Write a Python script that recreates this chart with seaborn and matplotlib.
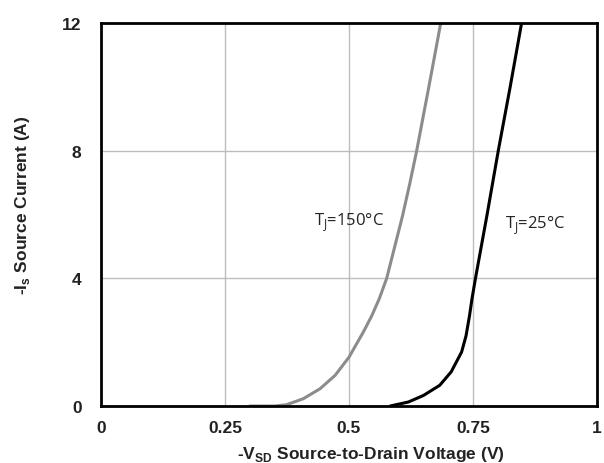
import numpy as np
import pandas as pd
import matplotlib
matplotlib.use("Agg")
import matplotlib.pyplot as plt
import seaborn as sns

# Data
v_150 = [0.30, 0.35, 0.374, 0.408, 0.4415, 0.472, 0.50, 0.529, 0.546, 0.561, 0.576, 0.608, 0.623, 0.6365, 0.661, 0.685]
i_150 = [0.0, 0.0, 0.04, 0.23, 0.54, 0.96, 1.53, 2.32, 2.83, 3.36, 4.0, 5.96, 7.0, 8.0, 10.0, 12.0]
v_25 = [0.583, 0.6196, 0.650, 0.683, 0.706, 0.727, 0.736, 0.743, 0.748, 0.755, 0.778, 0.801, 0.825, 0.848]
i_25 = [0.0, 0.125, 0.33, 0.65, 1.07, 1.69, 2.2, 2.83, 3.36, 4.0, 5.96, 8.0, 10.0, 12.0]
x_ticks = [0, 0.25, 0.5, 0.75, 1]
x_tick_labels = ["0", "0.25", "0.5", "0.75", "1"]
y_ticks = [0, 4, 8, 12]
y_tick_labels = ["0", "4", "8", "12"]

df150 = pd.DataFrame({"V": v_150, "I": i_150})
df25 = pd.DataFrame({"V": v_25, "I": i_25})

sns.set_theme(style="white")
plt.rcParams["font.family"] = ["Liberation Sans", "DejaVu Sans"]

fig = plt.figure(figsize=(6.04, 4.64), dpi=100)
ax = fig.add_axes([0.1672, 0.1228, 0.8212, 0.8255])

sns.lineplot(data=df150, x="V", y="I", ax=ax, color="#8c8c8c", linewidth=2.2, sort=False,
             solid_joinstyle="round", solid_capstyle="round")
sns.lineplot(data=df25, x="V", y="I", ax=ax, color="#000000", linewidth=2.2, sort=False,
             solid_joinstyle="round", solid_capstyle="round")

ax.set_xlim(0, 1)
ax.set_ylim(0, 12)
ax.set_xticks(x_ticks)
ax.set_xticklabels(x_tick_labels)
ax.set_yticks(y_ticks)
ax.set_yticklabels(y_tick_labels)
ax.grid(True, color="#bdbdbd", linewidth=1.0)
ax.set_axisbelow(True)
for s in ax.spines.values():
    s.set_visible(True)
    s.set_color("black")
    s.set_linewidth(2.0)
ax.tick_params(axis="both", length=0, labelsize=12.5, colors="#222222")
ax.tick_params(axis="x", pad=10)
ax.tick_params(axis="y", pad=14)
for lab in ax.get_xticklabels() + ax.get_yticklabels():
    lab.set_fontweight("bold")

ax.set_xlabel(r"-V$_\mathregular{SD}$ Source-to-Drain Voltage (V)", fontsize=12.5, fontweight="bold",
              color="#222222")
ax.set_ylabel(r"-I$_\mathregular{s}$ Source Current (A)", fontsize=12.5, fontweight="bold",
              color="#222222")
ax.xaxis.set_label_coords(0.544, -0.100)
ax.yaxis.set_label_coords(-0.139, 0.527)

ax.text(0.5, 5.77, r"T$_\mathregular{J}$=150°C", fontsize=12, color="#222222", ha="center", va="center",
        family=["Open Sans", "DejaVu Sans"])
ax.text(0.876, 5.67, r"T$_\mathregular{J}$=25°C", fontsize=12, color="#222222", ha="center", va="center",
        family=["Open Sans", "DejaVu Sans"])

fig.savefig("out.png", dpi=100)
